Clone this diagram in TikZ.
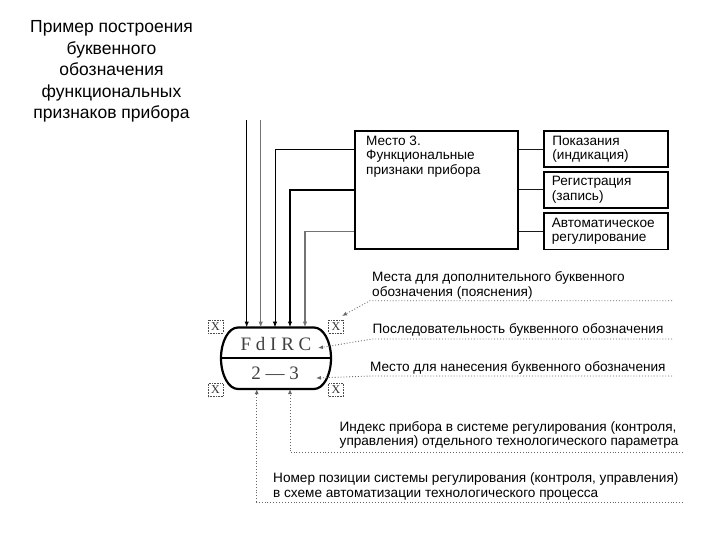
\documentclass[tikz,border=0pt]{standalone}
\usepackage{fontspec}
\setmainfont{Liberation Sans}
\newfontfamily\serifx{Liberation Serif}
\usetikzlibrary{arrows.meta}
\begin{document}
\begin{tikzpicture}[x=1pt,y=-1pt,
  txt/.style={font=\fontsize{13.6}{14.5}\selectfont, inner sep=0pt, align=left, anchor=base west},
  ttl/.style={font=\fontsize{17.5}{21.6}\selectfont, inner sep=0pt, align=center, anchor=base},
  bigbox/.style={draw, line width=1.8pt, inner sep=0pt},
  smbox/.style={draw, line width=1.8pt, inner sep=0pt, minimum width=124pt, minimum height=36pt, anchor=north west},
  xbox/.style={draw=black!70, densely dotted, line width=0.6pt, minimum width=15pt, minimum height=13pt, inner sep=0pt, font=\serifx\fontsize{12}{12}\selectfont, text=black!80},
  dotl/.style={draw=black!60, dotted, line width=0.9pt},
  tip/.style={-{Latex[length=6pt,width=4.5pt]}},
  dtip/.style={-{Latex[length=5pt,width=4pt]}},
  conn/.style={line width=0.9pt, black!90}
]
\useasboundingbox (0,0) rectangle (720,540);

% title (base anchor = baseline of the last line)
\node[ttl] (title) at (111.5,119) {Пример построения\\буквенного\\обозначения\\функциональных\\признаков прибора};

% main box and result boxes
\node[bigbox, minimum width=163pt, minimum height=118pt, anchor=north west] (mb) at (354,130) {};
\node[txt] (mbt) at (366,174.5) {Место 3.\\Функциональные\\признаки прибора};

\node[smbox] (b1) at (542.7,130.5) {};
\node[smbox] (b2) at (542.7,171) {};
\node[smbox] (b3) at (542.7,212.5) {};
\node[txt, anchor=west] (b1t) at ([xshift=9.5pt]b1.west) {Показания\\(индикация)};
\node[txt, anchor=west] (b2t) at ([xshift=9pt]b2.west) {Регистрация\\(запись)};
\node[txt, anchor=west] (b3t) at ([xshift=9pt]b3.west) {Автоматическое\\регулирование};

\draw[conn] (b1.west) -- (b1.west -| mb.east);
\draw[conn] (b2.west) -- (b2.west -| mb.east);
\draw[conn] (b3.west) -- (b3.west -| mb.east);

% instrument symbol
\draw[line width=2.2pt] (238,327.5) -- (314,327.5)
  arc[start angle=-90, end angle=90, x radius=17, y radius=30.75]
  -- (238,389)
  arc[start angle=90, end angle=270, x radius=17, y radius=30.75] -- cycle;
\draw[line width=2.2pt] (221,358.25) -- (331,358.25);
\node[font=\serifx\fontsize{19}{19}\selectfont, text=black!75, inner sep=0pt] (fd) at (276,343.5) {F d I R C};
\node[font=\serifx\fontsize{19}{19}\selectfont, text=black!75, inner sep=0pt] (num) at (275,373.5) {2 — 3};

% input lines
\coordinate (s1) at (246.7,327.5);
\coordinate (s2) at (260.7,327.5);
\coordinate (s3) at (275,327.5);
\coordinate (s4) at (290,327.5);
\coordinate (s5) at (305,327.5);
\coordinate (i1) at (246.7,120);
\coordinate (i2) at (260.7,120);
\coordinate (m3) at (354,149.3);
\coordinate (m4) at (354,190);
\coordinate (m5) at (354,231.7);
\draw[tip, line width=1.3pt] (i1) -- (s1);
\draw[tip, line width=1.1pt, black!55] (i2) -- (s2);
\draw[tip, line width=0.9pt] (m3) -| (s3);
\draw[tip, line width=1.4pt] (m4) -| (s4);
\draw[tip, line width=1.1pt, black!55] (m5) -| (s5);

% X places
\node[xbox] (x1) at (215.5,326.5) {X};
\node[xbox] (x2) at (336,326.5) {X};
\node[xbox] (x3) at (215.5,390) {X};
\node[xbox] (x4) at (336,390) {X};

% explanations (base anchor = baseline of the last line)
\node[txt] (n1) at (372,296) {Места для дополнительного буквенного\\обозначения (пояснения)};
\node[txt] (n2) at (372.5,333) {Последовательность буквенного обозначения};
\node[txt] (n3) at (370,371) {Место для нанесения буквенного обозначения};
\node[txt] (n4) at (339.5,445.5) {Индекс прибора в системе регулирования (контроля,\\управления) отдельного технологического параметра};
\node[txt] (n5) at (273,497) {Номер позиции системы регулирования (контроля, управления)\\в схеме автоматизации технологического процесса};

\coordinate (u1) at (672,300.7);
\coordinate (u1a) at (370,300.7);
\coordinate (t1) at (342,316);
\coordinate (u2) at (672,339);
\coordinate (u2a) at (372,339);
\coordinate (t2) at (318,348);
\coordinate (u3) at (672,376);
\coordinate (u3a) at (372,376);
\coordinate (t3) at (316,378);
\coordinate (u4) at (683,452.7);
\coordinate (t4) at (290,389);
\coordinate (u5) at (683,502);
\coordinate (t5) at (256.7,389);

\draw[dotl, dtip] (u1) -- (u1a) -- (t1);
\draw[dotl, dtip] (u2) -- (u2a) -- (t2);
\draw[dotl, dtip] (u3) -- (u3a) -- (t3);
\draw[dotl, dtip] (u4) -| (t4);
\draw[dotl, dtip] (u5) -| (t5);
\end{tikzpicture}
\end{document}
